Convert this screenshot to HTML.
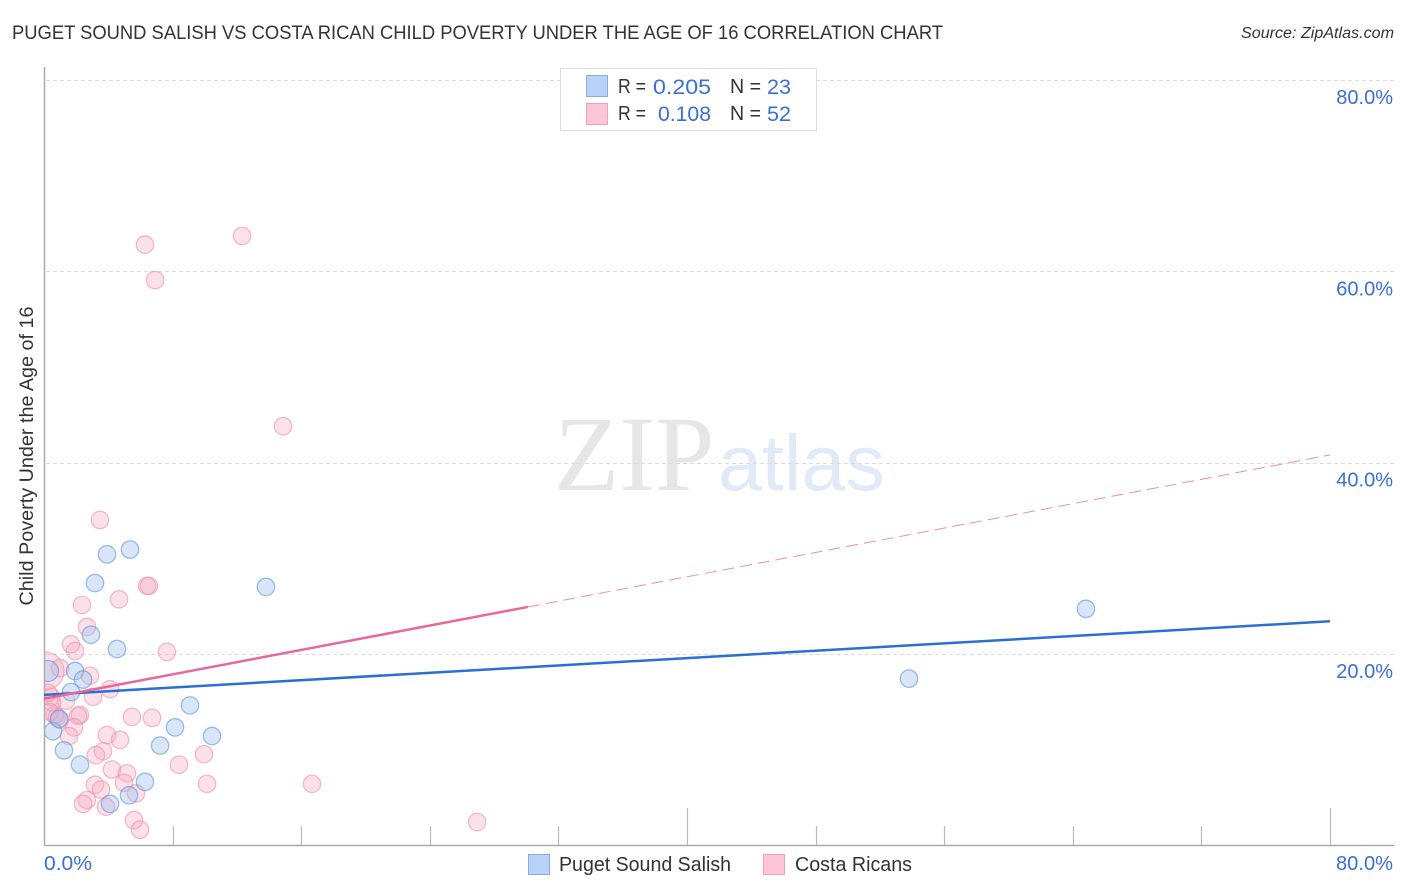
<!DOCTYPE html>
<html lang="en">
<head>
<meta charset="utf-8">
<title>Puget Sound Salish vs Costa Rican Child Poverty Correlation Chart</title>
<style>
html,body{margin:0;padding:0;background:#fff;}
svg{display:block;font-family:"Liberation Sans",sans-serif;}
</style>
</head>
<body>
<svg id="chart" width="1406" height="892" viewBox="0 0 1406 892" xmlns="http://www.w3.org/2000/svg">
  <defs><clipPath id="plot-clip"><rect x="45" y="60" width="1349" height="785"/></clipPath></defs>
  <rect x="0" y="0" width="1406" height="892" fill="#fff"/>
  <text x="12" y="39" font-size="19.5" fill="#333" textLength="931" lengthAdjust="spacingAndGlyphs">PUGET SOUND SALISH VS COSTA RICAN CHILD POVERTY UNDER THE AGE OF 16 CORRELATION CHART</text>
  <text x="1394" y="38" font-size="15.5" font-style="italic" fill="#333" text-anchor="end" textLength="153" lengthAdjust="spacingAndGlyphs">Source: ZipAtlas.com</text>
  <g>
    <text x="554" y="490" font-size="107" fill="#e6e6e6" style="font-family:'Liberation Serif',serif">ZIP</text>
    <text x="718" y="490" font-size="79" fill="#e0eaf8">atlas</text>
  </g>
  <g id="grid"></g>
  <g id="axes"></g>
  <text transform="translate(33,456) rotate(-90)" font-size="19" fill="#333" text-anchor="middle" textLength="299" lengthAdjust="spacingAndGlyphs">Child Poverty Under the Age of 16</text>
  <g id="points" clip-path="url(#plot-clip)"></g>
  <g id="trends"></g>
  <g>
    <rect x="560.5" y="68.5" width="256" height="62" fill="#fff" stroke="#ddd"/>
    <rect x="586.5" y="75.5" width="21" height="21" fill="#b8d3f7" stroke="#7faee8"/>
    <rect x="586.5" y="103.5" width="21" height="21" fill="#fcc5d8" stroke="#f0a0bc"/>
    <g font-size="20" fill="#333">
      <text x="618" y="93" textLength="28" lengthAdjust="spacingAndGlyphs">R =</text>
      <text x="618" y="120" textLength="28" lengthAdjust="spacingAndGlyphs">R =</text>
      <text x="730" y="93" textLength="31" lengthAdjust="spacingAndGlyphs">N =</text>
      <text x="730" y="120" textLength="31" lengthAdjust="spacingAndGlyphs">N =</text>
    </g>
    <g font-size="21.5" fill="#3a70d2">
      <text x="653" y="94" textLength="58" lengthAdjust="spacingAndGlyphs">0.205</text>
      <text x="658" y="121" textLength="53" lengthAdjust="spacingAndGlyphs">0.108</text>
      <text x="767" y="94" textLength="24" lengthAdjust="spacingAndGlyphs">23</text>
      <text x="767" y="121" textLength="24" lengthAdjust="spacingAndGlyphs">52</text>
    </g>
  </g>
  <g>
    <rect x="528.5" y="854.5" width="21" height="20" fill="#b8d3f7" stroke="#7faee8"/>
    <text x="559" y="871" font-size="20" fill="#333" textLength="172" lengthAdjust="spacingAndGlyphs">Puget Sound Salish</text>
    <rect x="763.5" y="854.5" width="21" height="20" fill="#fcc5d8" stroke="#f0a0bc"/>
    <text x="795" y="871" font-size="20" fill="#333" textLength="117" lengthAdjust="spacingAndGlyphs">Costa Ricans</text>
  </g>
</svg>
<script>
const yTicks = [20, 40, 60, 80];
const yTickLabels = ["20.0%", "40.0%", "60.0%", "80.0%"];
const xTicks = [8, 16, 24, 32, 40, 48, 56, 64, 72, 80];
const xMajorTicks = [40, 80];
const xEndValues = [0, 80];
const xEndLabels = ["0.0%", "80.0%"];

const blueX = [0.25,0.56,0.93,1.24,1.93,2.43,1.68,2.24,2.92,3.17,3.92,5.35,4.54,4.11,5.29,6.28,7.22,8.15,9.08,10.45,13.81,53.81,64.82];
const blueY = [18.2,11.9,13.2,9.9,18.2,17.3,16.0,8.4,22.0,27.4,30.4,30.9,20.5,4.3,5.2,6.6,10.4,12.3,14.6,11.4,27.0,17.4,24.7];

const pinkX = [0.06,3.48,6.41,6.53,4.67,2.36,2.67,1.68,1.93,7.65,1.0,2.86,4.11,3.05,0.44,1.37,0.5,5.47,6.72,2.24,2.12,0.81,1.0,0.68,1.87,1.56,3.92,4.73,9.95,3.67,3.23,8.4,4.23,5.16,4.98,10.14,16.67,3.17,3.55,5.72,2.67,2.43,3.86,5.6,5.97,6.28,6.91,12.32,14.87,26.94,0.25,0.37];
const pinkY = [18.2,34.0,27.1,27.1,25.7,25.1,22.8,21.0,20.3,20.2,18.5,17.7,16.3,15.5,15.5,15.1,14.9,13.4,13.3,13.6,13.5,13.4,13.1,13.6,12.3,11.4,11.5,11.0,9.5,9.8,9.4,8.4,7.9,7.5,6.5,6.4,6.4,6.3,5.8,5.4,4.7,4.3,4.0,2.6,1.6,62.8,59.1,63.7,43.8,2.4,15.9,13.9];

const blueTrendX = [0, 80];
const blueTrendY = [15.7, 23.4];
const pinkSolidX = [0, 30.1];
const pinkSolidY = [15.3, 24.9];
const pinkDashX = [30.1, 80];
const pinkDashY = [24.9, 40.8];

const NS = "http://www.w3.org/2000/svg";
const xScale = v => 44 + v * 16.075;
const yScale = v => 845 - v * 9.56;

function make(tag, parent, attrs) {
  const el = document.createElementNS(NS, tag);
  for (const k in attrs) el.setAttribute(k, attrs[k]);
  parent.appendChild(el);
  return el;
}

const grid = document.getElementById("grid");
const axes = document.getElementById("axes");
const points = document.getElementById("points");
const trends = document.getElementById("trends");

yTicks.forEach((t, i) => {
  const y = Math.round(yScale(t)) + 0.5;
  const line = make("line", grid, {x1: 46, x2: 1394, y1: y, y2: y, stroke: "#dcdcdc", "stroke-width": 1, "stroke-dasharray": "4 3"});
  
  
  const label = make("text", axes, {x: 1393, y: yScale(t) + 24, "font-size": 20, fill: "#3a70d2", "text-anchor": "end"});
  label.textContent = yTickLabels[i];
  
  
});

const yAxis = make("line", axes, {x1: 44.5, x2: 44.5, y1: 67, y2: 846, stroke: "#aaa", "stroke-width": 1.5});


const xAxis = make("line", axes, {x1: 44, x2: 1394, y1: 845.5, y2: 845.5, stroke: "#aaa", "stroke-width": 1.5});



xTicks.forEach(t => {
  const x = Math.round(xScale(t)) + 0.5;
  const top = xMajorTicks.includes(t) ? 808 : 826;
  const tick = make("line", axes, {x1: x, x2: x, y1: top, y2: 845, stroke: "#bbb", "stroke-width": 1.2});
  
  
});

xEndValues.forEach((v, i) => {
  const label = make("text", axes, {x: i === 0 ? xScale(v) : 1336, y: 870, "font-size": 20, fill: "#3a70d2", textLength: i === 0 ? 48 : 57, lengthAdjust: "spacingAndGlyphs"});
  label.textContent = xEndLabels[i];
  
  
});

pinkX.forEach((v, i) => {
  const c = make("circle", points, {cx: xScale(v), cy: yScale(pinkY[i]), r: i === 0 ? 19 : 8.7, fill: "#f6a6bf", "fill-opacity": 0.34, stroke: "#ec8fae", "stroke-opacity": 0.6, "stroke-width": 1.3});
  
  
});

blueX.forEach((v, i) => {
  const c = make("circle", points, {cx: xScale(v), cy: yScale(blueY[i]), r: i === 0 ? 10.5 : 8.7, fill: "#9dc0ee", "fill-opacity": 0.4, stroke: "#5f95e0", "stroke-opacity": 0.6, "stroke-width": 1.3});
  
  
});

const dashLine = make("line", trends, {x1: xScale(pinkDashX[0]), y1: yScale(pinkDashY[0]), x2: xScale(pinkDashX[1]), y2: yScale(pinkDashY[1]), stroke: "#ec8fae", "stroke-width": 1, "stroke-dasharray": "12 6"});



const blueLine = make("line", trends, {x1: xScale(blueTrendX[0]), y1: yScale(blueTrendY[0]), x2: xScale(blueTrendX[1]), y2: yScale(blueTrendY[1]), stroke: "#2a6fd2", "stroke-width": 2.5});



const pinkLine = make("line", trends, {x1: xScale(pinkSolidX[0]), y1: yScale(pinkSolidY[0]), x2: xScale(pinkSolidX[1]), y2: yScale(pinkSolidY[1]), stroke: "#e8689a", "stroke-width": 2.5});


</script>
</body>
</html>
